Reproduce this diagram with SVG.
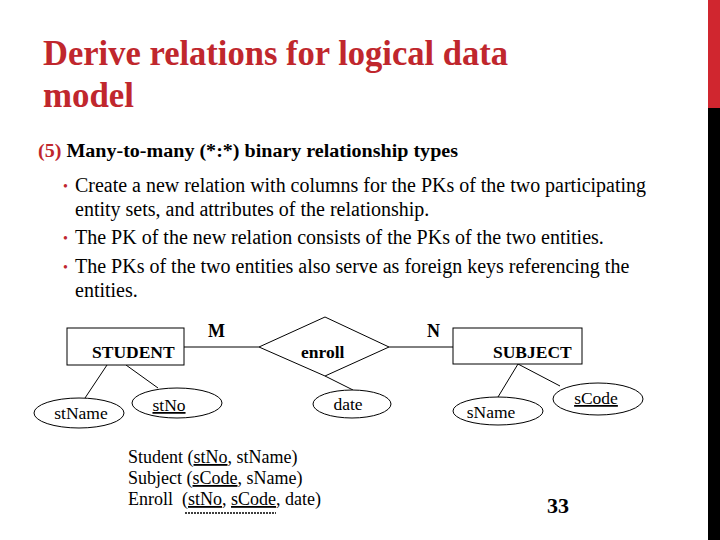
<svg xmlns="http://www.w3.org/2000/svg" width="720" height="540" viewBox="0 0 720 540">
<style>
text{font-family:"Liberation Serif","Times New Roman",serif}
.title{font-weight:bold;font-size:36px;fill:#c0272d}
.sub{font-weight:bold;font-size:18px;fill:#000}
.body{font-size:20px;fill:#000}
.bul{font-size:14px;fill:#c0272d}
.ent{font-weight:bold;font-size:17.5px;fill:#000}
.att{font-size:17.5px;fill:#000}
.rel{font-size:18px;fill:#000}
.shape{fill:#fff;stroke:#000;stroke-width:1}
.conn{stroke:#000;stroke-width:1;fill:none}
</style>
<rect x="0" y="0" width="720" height="540" fill="#fff"/>
<rect x="708" y="0" width="12" height="108" fill="#d0262f"/>
<rect x="708" y="108" width="12" height="432" fill="#000"/>
<text class="title" x="43" y="65" textLength="465" lengthAdjust="spacingAndGlyphs">Derive relations for logical data</text>
<text class="title" x="43" y="107" textLength="91" lengthAdjust="spacingAndGlyphs">model</text>
<text class="sub" x="38" y="157" textLength="420" lengthAdjust="spacingAndGlyphs"><tspan fill="#c0272d">(5)</tspan> Many-to-many (*:*) binary relationship types</text>
<g id="bullets">
<text class="bul" x="63" y="191">•</text>
<text class="body" x="75" y="192" textLength="571" lengthAdjust="spacingAndGlyphs">Create a new relation with columns for the PKs of the two participating</text>
<text class="body" x="75" y="216">entity sets, and attributes of the relationship.</text>
<text class="bul" x="63" y="243">•</text>
<text class="body" x="75" y="244">The PK of the new relation consists of the PKs of the two entities.</text>
<text class="bul" x="63" y="272">•</text>
<text class="body" x="75" y="273">The PKs of the two entities also serve as foreign keys referencing the</text>
<text class="body" x="75" y="297">entities.</text>
</g>
<g id="connectors">
<line class="conn" x1="184" y1="347" x2="259" y2="347"/>
<line class="conn" x1="389" y1="347" x2="453" y2="347"/>
<line class="conn" x1="107" y1="365" x2="85" y2="398"/>
<line class="conn" x1="126" y1="365" x2="158" y2="388"/>
<line class="conn" x1="325" y1="376" x2="353" y2="390"/>
<line class="conn" x1="518" y1="364" x2="498" y2="397"/>
<line class="conn" x1="518" y1="364" x2="560" y2="386"/>
</g>
<text class="ent" x="208" y="337" style="font-size:18px">M</text>
<text class="ent" x="427" y="337" style="font-size:18px">N</text>
<g id="student">
<rect class="shape" x="67" y="328" width="117" height="37"/>
<text class="ent" x="92" y="358">STUDENT</text>
</g>
<g id="enroll">
<polygon class="shape" points="259,347 325,317 389,347 325,376"/>
<text class="ent" x="301" y="358">enroll</text>
</g>
<g id="subject">
<rect class="shape" x="453" y="328" width="129" height="36"/>
<text class="ent" x="493" y="358">SUBJECT</text>
</g>
<g id="stName">
<ellipse class="shape" cx="79" cy="413" rx="45" ry="15"/>
<text class="att" x="81" y="419" text-anchor="middle">stName</text>
</g>
<g id="stNo">
<ellipse class="shape" cx="177" cy="403" rx="45" ry="15"/>
<text class="att" x="169" y="411" text-anchor="middle" text-decoration="underline">stNo</text>
</g>
<g id="date">
<ellipse class="shape" cx="352" cy="404" rx="39" ry="14"/>
<text class="att" x="348" y="410" text-anchor="middle">date</text>
</g>
<g id="sName">
<ellipse class="shape" cx="498" cy="411" rx="45" ry="14"/>
<text class="att" x="491" y="418" text-anchor="middle">sName</text>
</g>
<g id="sCode">
<ellipse class="shape" cx="598" cy="399" rx="45" ry="16"/>
<text class="att" x="596" y="404" text-anchor="middle" text-decoration="underline">sCode</text>
</g>
<g id="relations">
<text class="rel" x="128" y="463">Student (<tspan text-decoration="underline">stNo</tspan>, stName)</text>
<text class="rel" x="128" y="484">Subject (<tspan text-decoration="underline">sCode</tspan>, sName)</text>
<text class="rel" x="128" y="505" xml:space="preserve">Enroll  (<tspan text-decoration="underline">stNo</tspan>, <tspan text-decoration="underline">sCode</tspan>, date)</text>
<line x1="185" y1="513" x2="276" y2="513" stroke="#000" stroke-width="1.5" stroke-dasharray="2,1"/>
</g>
<text x="547" y="513" style="font-weight:bold;font-size:22px" fill="#000">33</text>
</svg>
